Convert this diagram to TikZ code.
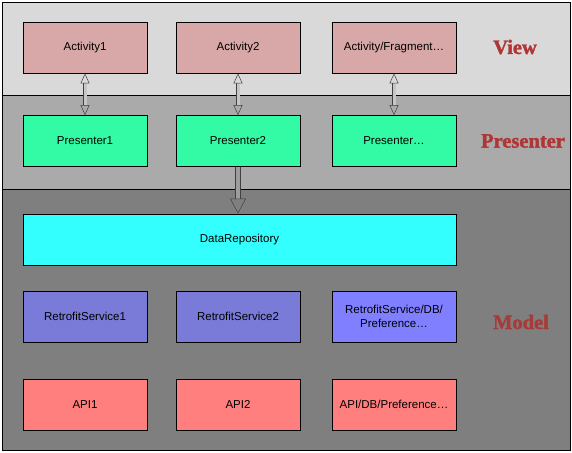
\documentclass[tikz,border=0pt]{standalone}
\usepackage{fontspec}
\setmainfont{Liberation Sans}
\newfontfamily\labfont[BoldFeatures={FakeBold=1.6}]{Liberation Serif}
\usetikzlibrary{arrows.meta}
\definecolor{viewbg}{HTML}{D9D9D9}
\definecolor{presbg}{HTML}{AAAAAA}
\definecolor{modelbg}{HTML}{7F7F7F}
\definecolor{actfill}{HTML}{D8A8A8}
\definecolor{presfill}{HTML}{33FBA5}
\definecolor{repofill}{HTML}{33FFFF}
\definecolor{retrofill}{HTML}{7A7AD8}
\definecolor{retrofillb}{HTML}{7F7FFF}
\definecolor{apifill}{HTML}{FF7F7F}
\definecolor{labcol}{HTML}{B03636}
\definecolor{labcolm}{HTML}{A83A3A}
\definecolor{arrcol}{HTML}{404040}
\tikzset{
  band/.style={draw=black, line width=0.8pt},
  box/.style={draw=black, line width=0.8pt, minimum width=124pt, minimum height=51pt,
    inner sep=0pt, align=center, font=\fontsize{11.5}{13.5}\selectfont},
  layerlabel/.style={font=\labfont\bfseries\fontsize{20.5}{22}\selectfont, text=labcol},
  dblarrow/.style={draw=arrcol, line width=0.5pt, double=viewbg!60!presbg, double distance=3pt,
    {Triangle[open, length=10pt, width=9pt]}-{Triangle[open, length=10pt, width=9pt]}},
  downarrow/.style={draw=arrcol, line width=0.5pt, double=presbg!70!modelbg, double distance=4.5pt,
    -{Triangle[open, length=15pt, width=16pt]}}
}
\begin{document}
\begin{tikzpicture}[x=1pt, y=-1pt]
\useasboundingbox (0,0) rectangle (572,452);
% bands
\path[band, fill=viewbg] (2,2) rectangle (570,95);
\path[band, fill=presbg] (2,95) rectangle (570,189);
\path[band, fill=modelbg] (2,189) rectangle (570,450);
% view
\node[box, fill=actfill] (a1) at (85,47.5) {Activity1};
\node[box, fill=actfill] (a2) at (238,47.5) {Activity2};
\node[box, fill=actfill] (a3) at (394,47.5) {Activity/Fragment\dots};
% presenter
\node[box, fill=presfill] (p1) at (85,141) {Presenter1};
\node[box, fill=presfill] (p2) at (238,141) {Presenter2};
\node[box, fill=presfill] (p3) at (394,141) {Presenter\dots};
% model
\node[box, fill=repofill, minimum width=433pt] (repo) at (239.5,239.5) {DataRepository};
\node[box, fill=retrofill] (r1) at (85,316.5) {RetrofitService1};
\node[box, fill=retrofill] (r2) at (238,316.5) {RetrofitService2};
\node[box, fill=retrofillb] (r3) at (394,316.5) {RetrofitService/DB/\\Preference\dots};
\node[box, fill=apifill] (i1) at (85,404.5) {API1};
\node[box, fill=apifill] (i2) at (238,404.5) {API2};
\node[box, fill=apifill] (i3) at (394,404.5) {API/DB/Preference\dots};
% labels
\node[layerlabel] (lv) at (515,47) {View};
\node[layerlabel] (lp) at (523,141) {Presenter};
\node[layerlabel, text=labcolm] (lm) at (521,322) {Model};
% arrows
\draw[dblarrow] (a1.south) -- (p1.north);
\draw[dblarrow] (a2.south) -- (p2.north);
\draw[dblarrow] (a3.south) -- (p3.north);
\draw[downarrow] (p2.south) -- (p2.south |- repo.north);
\end{tikzpicture}
\end{document}
